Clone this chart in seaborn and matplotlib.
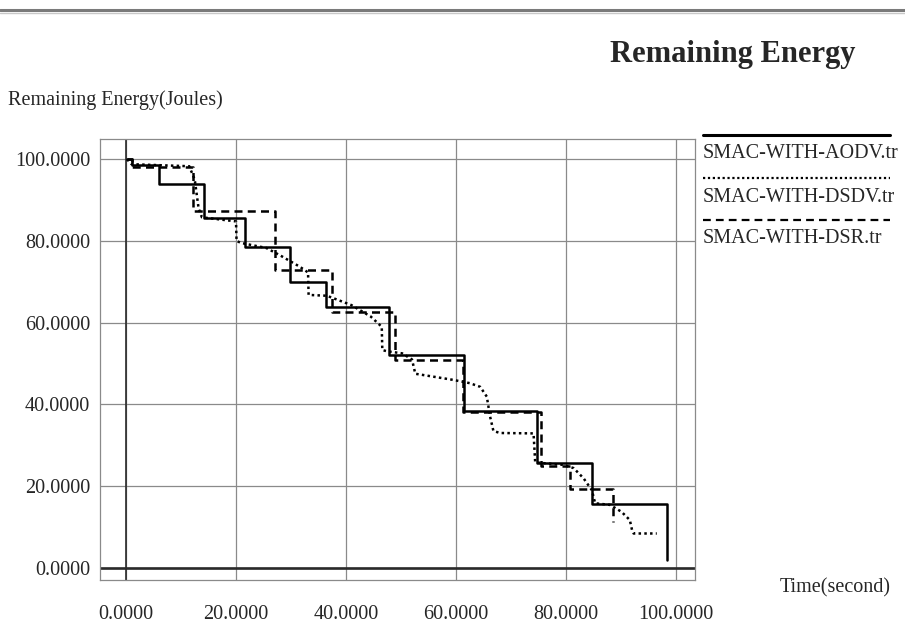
import matplotlib
matplotlib.use("Agg")
import matplotlib.pyplot as plt
from matplotlib.lines import Line2D
import seaborn as sns
import pandas as pd

# ---------------- data ----------------
x_ticks = [0, 20, 40, 60, 80, 100]
y_ticks = [0, 20, 40, 60, 80, 100]
x_tick_labels = ["0.0000", "20.0000", "40.0000", "60.0000", "80.0000", "100.0000"]
y_tick_labels = ["0.0000", "20.0000", "40.0000", "60.0000", "80.0000", "100.0000"]

series_names = ["SMAC-WITH-AODV.tr", "SMAC-WITH-DSDV.tr", "SMAC-WITH-DSR.tr"]

# AODV: step changes (time, energy after change)
aodv_t = [0.2, 1.0, 6.0, 14.2, 21.6, 29.8, 36.4, 47.9, 61.5, 74.8, 84.7, 98.3]
aodv_e = [100.0, 98.6, 93.9, 85.6, 78.5, 70.0, 63.8, 52.1, 38.5, 25.7, 15.7, 1.9]

# DSR: step changes
dsr_t = [0.2, 1.0, 12.2, 27.1, 37.5, 48.9, 61.3, 75.5, 80.7, 88.6]
dsr_e = [100.0, 98.2, 87.3, 72.9, 62.6, 50.9, 38.2, 25.0, 19.3, 11.3]

# DSDV: traced curve
dsdv_t = [0.2, 1.0, 11.5, 12.5, 13.2, 13.8, 20.0, 20.1, 21.0, 25.5, 28.0, 31.6,
          33.1, 33.2, 36.5, 37.7, 41.0, 44.5, 46.5, 46.6, 47.5, 50.2, 52.0, 52.6,
          54.0, 59.5, 62.5, 64.4, 65.6, 66.2, 66.8, 68.0, 74.1, 74.4, 79.5, 81.4,
          83.2, 84.7, 85.3, 88.0, 90.1, 91.6, 92.0, 92.3, 96.5]
dsdv_e = [100.0, 98.8, 98.3, 95.0, 88.0, 85.8, 84.8, 80.0, 79.5, 78.3, 76.5, 73.7,
          72.3, 66.8, 66.6, 66.0, 64.3, 61.5, 59.0, 53.3, 53.0, 52.5, 51.0, 47.5,
          47.2, 46.0, 45.2, 44.3, 41.9, 37.0, 33.5, 33.0, 32.9, 25.8, 25.2, 24.4,
          21.9, 19.0, 15.8, 15.4, 13.7, 11.7, 9.3, 8.4, 8.4]

title = "Remaining Energy"
y_label = "Remaining Energy(Joules)"
x_label = "Time(second)"

# ---------------- figure ----------------
sns.set_theme(style="white")
plt.rcParams["font.family"] = ["Liberation Serif", "DejaVu Serif"]

W, H = 905, 635
fig = plt.figure(figsize=(W / 100, H / 100), dpi=100)
fig.patch.set_facecolor("white")

def fx(px):
    return px / W

def fy(py):
    return 1 - py / H

left, right, top, bottom = 100, 695, 139, 580
ax = fig.add_axes([fx(left), fy(bottom), (right - left) / W, (bottom - top) / H])

px_per_x = 5.5
px_per_y = 4.085
x0_px, y0_px = 126, 567.8
ax.set_xlim((left - x0_px) / px_per_x, (right - x0_px) / px_per_x)
ax.set_ylim((y0_px - bottom) / px_per_y, (y0_px - top) / px_per_y)

# grid
for xv in x_ticks:
    ax.axvline(xv, color="#8a8a8a", lw=0.9, zorder=1)
for yv in y_ticks:
    ax.axhline(yv, color="#8a8a8a", lw=0.9, zorder=1)
ax.axvline(0, color="#2a2a2a", lw=1.2, zorder=2)
ax.axhline(0, color="#2a2a2a", lw=1.9, zorder=2)

df_aodv = pd.DataFrame({"t": aodv_t, "e": aodv_e})
df_dsr = pd.DataFrame({"t": dsr_t, "e": dsr_e})
df_dsdv = pd.DataFrame({"t": dsdv_t, "e": dsdv_e})

sns.lineplot(data=df_aodv, x="t", y="e", ax=ax, color="black", lw=1.8,
             drawstyle="steps-post", estimator=None, sort=False, zorder=4)
sns.lineplot(data=df_dsdv, x="t", y="e", ax=ax, color="black", lw=1.8,
             linestyle=(0, (1, 1.3)), estimator=None, sort=False, zorder=3)
sns.lineplot(data=df_dsr, x="t", y="e", ax=ax, color="black", lw=1.8,
             linestyle=(0, (3.2, 2.1)), drawstyle="steps-post",
             estimator=None, sort=False, zorder=3)

ax.set_xticks(x_ticks)
ax.set_yticks(y_ticks)
ax.set_xticklabels(x_tick_labels, fontsize=14.5)
ax.set_yticklabels(y_tick_labels, fontsize=14.5)
ax.tick_params(axis="x", length=0, pad=18)
ax.tick_params(axis="y", length=0, pad=7)
ax.set_xlabel("")
ax.set_ylabel("")
for s in ax.spines.values():
    s.set_color("#8a8a8a")
    s.set_linewidth(0.9)

# texts
fig.text(fx(855), fy(62), title, ha="right", va="baseline",
         fontsize=22, fontweight="bold")
fig.text(fx(8), fy(105), y_label, ha="left", va="baseline", fontsize=14.5)
fig.text(fx(780), fy(592), x_label, ha="left", va="baseline", fontsize=14.5)

# top rule
fig.add_artist(Line2D([0, 1], [fy(10), fy(10)], color="#7a7a7a", lw=2.2))
fig.add_artist(Line2D([0, 1], [fy(12.5), fy(12.5)], color="#c8c8c8", lw=1.0))

# legend (line above label)
leg_styles = [dict(ls="-", lw=2.2), dict(ls=(0, (1, 1.2)), lw=1.6),
              dict(ls=(0, (3.5, 2.3)), lw=1.6)]
leg_line_y = [135, 178, 220]
leg_text_y = [158, 202, 243]
for name, st, ly, ty in zip(series_names, leg_styles, leg_line_y, leg_text_y):
    fig.add_artist(Line2D([fx(703), fx(890)], [fy(ly), fy(ly)], color="black",
                          linestyle=st["ls"], lw=st["lw"]))
    fig.text(fx(703), fy(ty), name, ha="left", va="baseline", fontsize=14.5)

fig.savefig("out.png", dpi=100)
